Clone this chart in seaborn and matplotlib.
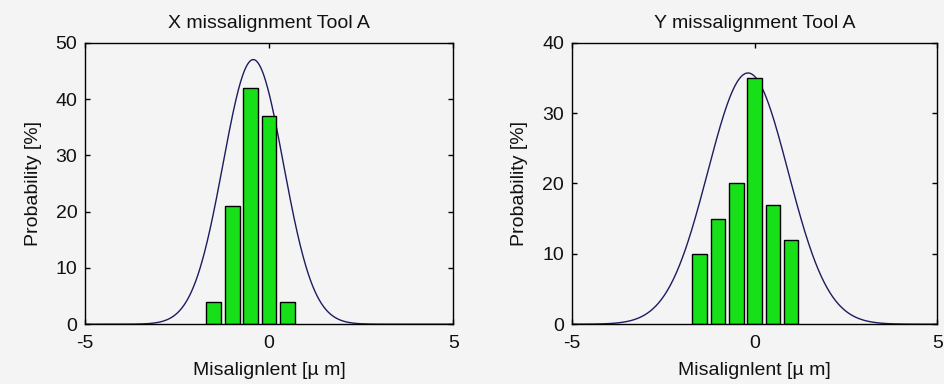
import numpy as np
import pandas as pd
import matplotlib
matplotlib.use("Agg")
import matplotlib.pyplot as plt
import seaborn as sns

# Histogram bin centres (µm) and probabilities (%) for each direction
x_bins = [-1.5, -1.0, -0.5, 0.0, 0.5]
x_prob = [4, 21, 42, 37, 4]
y_bins = [-1.5, -1.0, -0.5, 0.0, 0.5, 1.0]
y_prob = [10, 15, 20, 35, 17, 12]

# Fitted normal curves: mean (µm), standard deviation (µm), peak (%)
x_fit = (-0.43, 0.82, 47.0)
y_fit = (-0.18, 1.10, 35.7)

titles = ["X missalignment Tool A", "Y missalignment Tool A"]
x_label = "Misalignlent [µ m]"
y_label = "Probability [%]"
y_max = [50, 40]
y_step = 10
x_ticks = [-5, 0, 5]

BG = "#f4f4f4"
BAR = "#18e018"
CURVE = "#1c1c60"

sns.set_style("ticks")
plt.rcParams["font.family"] = ["Liberation Sans", "DejaVu Sans"]
plt.rcParams["font.size"] = 14

fig = plt.figure(figsize=(9.45, 3.84), dpi=100, facecolor=BG)
positions = [
    [0.0899, 0.1557, 0.3897, 0.7331],
    [0.6050, 0.1557, 0.3870, 0.7331],
]
panels = [(x_bins, x_prob, x_fit), (y_bins, y_prob, y_fit)]

for i, (bins, prob, fit) in enumerate(panels):
    ax = fig.add_axes(positions[i])
    ax.set_facecolor(BG)

    mu, sd, peak = fit
    grid = np.linspace(-5, 5, 501)
    curve = peak * np.exp(-((grid - mu) ** 2) / (2 * sd ** 2))
    sns.lineplot(x=grid, y=curve, ax=ax, color=CURVE, linewidth=1.0, zorder=1)

    df = pd.DataFrame({"bin": bins, "prob": prob})
    sns.barplot(data=df, x="bin", y="prob", ax=ax, native_scale=True,
                width=0.8, color=BAR, saturation=1, edgecolor="black",
                linewidth=1.0, errorbar=None, zorder=2)

    ax.set_xlim(-5, 5)
    ax.set_ylim(0, y_max[i])
    ax.set_xticks(x_ticks)
    ax.set_xticklabels([str(t) for t in x_ticks])
    yt = list(range(0, y_max[i] + 1, y_step))
    ax.set_yticks(yt)
    ax.set_yticklabels([str(t) for t in yt])

    for s in ax.spines.values():
        s.set_visible(True)
        s.set_color("black")
        s.set_linewidth(1.0)
        s.set_zorder(3)

    ax.tick_params(axis="both", direction="in", top=True, right=True,
                   length=3.5, width=1.0, color="black", labelsize=14,
                   labelcolor="#111111")
    ax.tick_params(axis="x", pad=8.0)
    ax.tick_params(axis="y", pad=5.5)

    ax.set_title(titles[i], fontsize=14, pad=10.8, color="#111111")
    ax.set_xlabel(x_label, fontsize=14, labelpad=7.0, color="#111111")
    ax.set_ylabel(y_label, fontsize=14, labelpad=10.0, color="#111111")

fig.savefig("out.png", dpi=100, facecolor=BG)
